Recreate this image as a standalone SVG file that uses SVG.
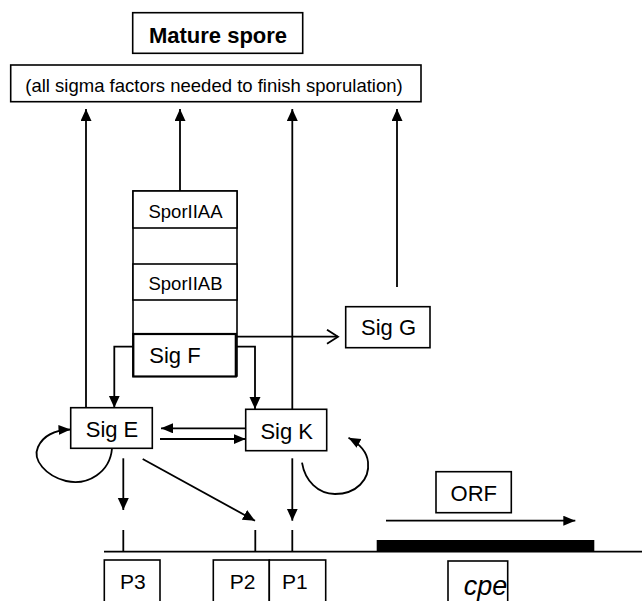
<svg xmlns="http://www.w3.org/2000/svg" width="642" height="601" viewBox="0 0 642 601">
<style>
.box{fill:#fff;stroke:#000;stroke-width:1.6}
.ln{fill:none;stroke:#000;stroke-width:1.8}
.t{font-family:"Liberation Sans",Arial,sans-serif;font-size:22px;fill:#000}
</style>
<defs>
<marker id="ah" markerUnits="userSpaceOnUse" markerWidth="13" markerHeight="12" refX="12" refY="5.5" orient="auto">
<path d="M0,0 L12,5.5 L0,11 z" fill="#000"/>
</marker>
<marker id="ahs" markerUnits="userSpaceOnUse" markerWidth="13" markerHeight="11" refX="12" refY="5" orient="auto">
<path d="M0,0 L12,5 L0,10 z" fill="#000"/>
</marker>
<marker id="open" markerUnits="userSpaceOnUse" markerWidth="14" markerHeight="16" refX="12" refY="8" orient="auto">
<path d="M1,1 L12,8 L1,15" fill="none" stroke="#000" stroke-width="1.8"/>
</marker>
</defs>
<rect width="642" height="601" fill="#fff"/>

<g id="connectors">
<path class="ln" d="M86,407.7 L86,109" marker-end="url(#ah)"/>
<path class="ln" d="M180,191 L180,109" marker-end="url(#ah)"/>
<path class="ln" d="M292.3,409.3 L292.3,109" marker-end="url(#ah)"/>
<path class="ln" d="M397,287 L397,109" marker-end="url(#ah)"/>
<path class="ln" d="M180,228 L180,263" marker-end="url(#ah)"/>
<path class="ln" d="M180,300 L180,334" marker-end="url(#ah)"/>
<path class="ln" d="M236,336.7 L338,336.7" marker-end="url(#open)"/>
<path class="ln" d="M133,346.7 L114.3,346.7 L114.3,407.7" marker-end="url(#ah)"/>
<path class="ln" d="M236,346.7 L255,346.7 L255,409" marker-end="url(#ah)"/>
<path class="ln" d="M245.7,428.3 L161,428.3" marker-end="url(#ahs)"/>
<path class="ln" d="M160,439 L245.7,439" marker-end="url(#ahs)"/>
<path class="ln" d="M112,448.5 C110,472 88,486 66,481 C46,476 32,460 38,447 C43,436 55,430 70.5,429.5" marker-end="url(#ahs)"/>
<path class="ln" d="M302,462.7 C305,481 318,494 335,494 C356,494 370,480 368,462 C367,452 360,444 348.5,437.7" marker-end="url(#ahs)"/>
<path class="ln" d="M123.3,458.3 L123.3,510" marker-end="url(#ah)"/>
<path class="ln" d="M142.7,459 L255,520.7" marker-end="url(#ah)"/>
<path class="ln" d="M292.3,458.3 L292.3,520.7" marker-end="url(#ah)"/>
<path class="ln" d="M386,520.7 L575.3,520.7" marker-end="url(#ahs)"/>
<path class="ln" d="M123.3,530 L123.3,551.7 M255.3,530 L255.3,551.7 M292.3,530 L292.3,551.7"/>
<path class="ln" d="M104,551.7 L642,551.7"/>
</g>

<g id="mature-spore">
<rect class="box" x="132.7" y="12.7" width="170" height="40.6"/>
<text class="t" x="218" y="43" text-anchor="middle" font-weight="bold">Mature spore</text>
</g>
<g id="all-sigma">
<rect class="box" x="10.7" y="65" width="410.3" height="36.7"/>
<text class="t" x="214" y="91.7" text-anchor="middle" style="font-size:18.5px">(all sigma factors needed to finish sporulation)</text>
</g>
<g id="column">
<rect class="box" x="133" y="191" width="104" height="185" fill="none"/>
</g>
<g id="sporIIAA">
<rect class="box" x="133" y="191" width="104" height="37"/>
<text class="t" x="185.5" y="218.3" text-anchor="middle" style="font-size:18.5px">SporIIAA</text>
</g>
<g id="sporIIAB">
<rect class="box" x="133" y="264" width="104" height="36"/>
<text class="t" x="185.5" y="290" text-anchor="middle" style="font-size:18.5px">SporIIAB</text>
</g>
<g id="sigF">
<rect class="box" x="133.3" y="334" width="102.5" height="42.5" style="stroke-width:2.2"/>
<text class="t" x="149.3" y="363.3">Sig F</text>
</g>
<g id="sigG">
<rect class="box" x="345.7" y="306.7" width="84.3" height="41"/>
<text class="t" x="388.5" y="335" text-anchor="middle">Sig G</text>
</g>
<g id="sigE">
<rect class="box" x="70.7" y="407.7" width="81.6" height="40.6"/>
<text class="t" x="112" y="437.3" text-anchor="middle">Sig E</text>
</g>
<g id="sigK">
<rect class="box" x="245.7" y="409.3" width="81" height="41.4"/>
<text class="t" x="286.7" y="439.3" text-anchor="middle">Sig K</text>
</g>
<g id="orf">
<rect class="box" x="436" y="471.7" width="75.3" height="41"/>
<text class="t" x="473.8" y="500.7" text-anchor="middle">ORF</text>
</g>
<g id="gene-bar">
<rect x="376.7" y="540" width="217.6" height="12" fill="#000"/>
</g>
<g id="P3">
<rect class="box" x="104.3" y="560" width="55.7" height="50"/>
<text class="t" x="132.8" y="589.3" text-anchor="middle" style="font-size:21px">P3</text>
</g>
<g id="P2">
<rect class="box" x="213.3" y="560" width="56" height="50"/>
<text class="t" x="242.5" y="589.3" text-anchor="middle" style="font-size:21px">P2</text>
</g>
<g id="P1">
<rect class="box" x="269.3" y="560" width="56.4" height="50"/>
<text class="t" x="294.8" y="589.3" text-anchor="middle" style="font-size:21px">P1</text>
</g>
<g id="cpe">
<rect class="box" x="448" y="561" width="59.7" height="50"/>
<text class="t" x="463.7" y="595" font-style="italic" style="font-size:27px">cpe</text>
</g>
</svg>
